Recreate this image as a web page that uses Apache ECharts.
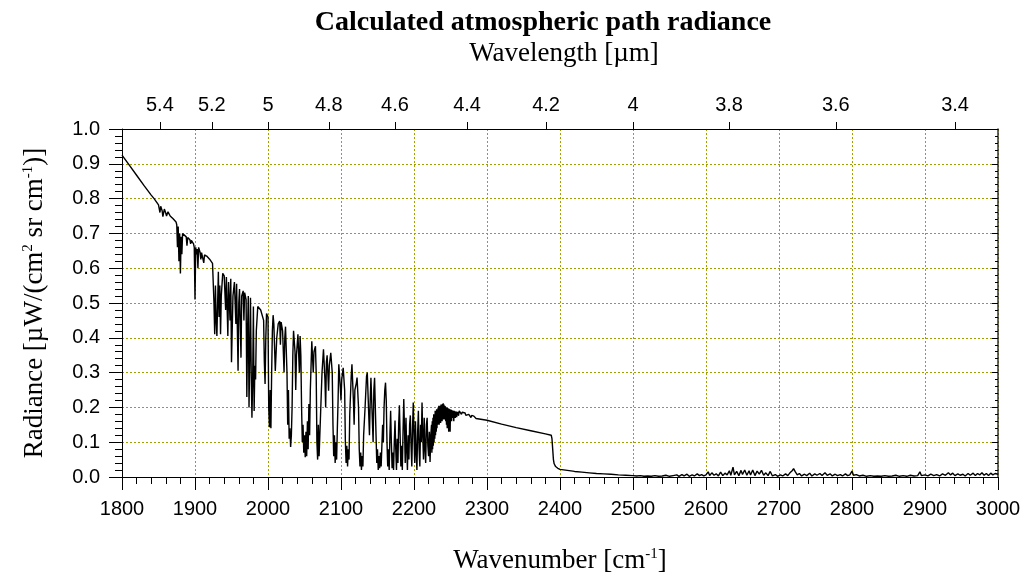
<!DOCTYPE html>
<html>
<head>
<meta charset="utf-8">
<title>Calculated atmospheric path radiance</title>
<script src="https://cdn.jsdelivr.net/npm/echarts@6/dist/echarts.min.js"></script>
<style>
  html, body { margin: 0; padding: 0; background: #fff; }
  #chart { width: 1027px; height: 579px; }
</style>
</head>
<body>
<div id="chart"></div>
<script>
// Path radiance spectrum, [wavenumber cm^-1, radiance µW/(cm² sr cm⁻¹)]
const h2oLines = [
  [1800,0.925],[1810,0.896],[1820,0.867],[1830,0.838],[1840,0.81],[1844,0.80],[1850,0.782],
  [1852,0.76],[1853,0.778],[1855,0.765],[1856,0.748],[1858,0.77],[1860,0.758],[1861,0.75],
  [1863,0.762],[1866,0.75],[1870,0.742],[1874,0.733],[1875,0.725],[1876,0.66],[1877,0.72],
  [1878,0.62],[1879,0.70],[1880,0.585],[1881,0.69],[1882,0.64],[1883,0.70],[1885,0.698],
  [1888,0.69],[1889,0.665],[1890,0.688],[1893,0.682],[1894,0.67],[1895,0.68],[1898,0.67],
  [1899,0.66],[1900,0.51],[1901,0.66],[1902,0.64],[1903,0.655],[1904,0.60],[1905,0.66],
  [1907,0.645],[1908,0.625],[1909,0.645],[1911,0.64],[1912,0.615],[1913,0.638],[1916,0.635],
  [1920,0.626],[1924,0.614],[1925,0.61],[1926,0.50],[1927,0.41],[1928,0.55],[1929,0.45],
  [1930,0.405],[1931,0.50],[1932,0.59],[1933,0.46],[1934,0.55],[1935,0.41],[1936,0.52],
  [1938,0.585],[1940,0.578],[1942,0.48],[1943,0.575],[1945,0.405],[1946,0.56],[1948,0.45],
  [1949,0.57],[1950,0.33],[1952,0.52],[1954,0.56],[1956,0.44],[1957,0.555],[1959,0.305],
  [1960,0.50],[1961,0.54],[1963,0.343],[1964,0.52],[1966,0.535],[1967,0.45],[1968,0.53],
  [1970,0.51],[1971,0.23],[1972,0.42],[1973,0.52],[1974,0.20],[1975,0.35],[1976,0.515],
  [1977,0.30],[1978,0.17],[1979,0.28],[1980,0.49],[1981,0.19],[1982,0.32],[1983,0.28],
  [1984,0.42]
];

const h2oCoLines = [
  [1986,0.49],[1988,0.495],[1990,0.48],[1992,0.485],[1994,0.45],[1995,0.33],[1996,0.267],
  [1997,0.40],[1998,0.47],[2000,0.46],[2001,0.20],[2002,0.143],[2003,0.25],[2004,0.14],
  [2005,0.30],[2006,0.42],[2007,0.465],[2008,0.44],[2010,0.305],[2012,0.40],[2014,0.44],
  [2016,0.448],[2017,0.38],[2018,0.445],[2020,0.42],[2022,0.30],[2023,0.40],[2024,0.432],
  [2026,0.30],[2027,0.15],[2028,0.25],[2029,0.11],[2030,0.14],[2031,0.086],[2032,0.12],
  [2033,0.20],[2034,0.35],[2035,0.42],[2037,0.36],[2038,0.25],[2039,0.35],[2041,0.41],
  [2043,0.30],[2044,0.405],[2045,0.35],[2046,0.20],[2047,0.10],[2048,0.15],[2049,0.07],
  [2050,0.12],[2051,0.057],[2052,0.13],[2053,0.06],[2054,0.16],[2055,0.08],[2056,0.21],
  [2057,0.12],[2058,0.25],[2060,0.39],[2062,0.30],[2063,0.36],[2065,0.376],[2066,0.30],
  [2067,0.10],[2068,0.05],[2069,0.15],[2070,0.06],[2071,0.12],[2072,0.18],[2074,0.30],
  [2076,0.367],[2078,0.28],[2079,0.20],[2080,0.33],[2081,0.35],[2083,0.248],[2084,0.32],
  [2086,0.357],[2088,0.30],[2089,0.15],[2090,0.06],[2091,0.12],[2092,0.04],[2093,0.10],
  [2094,0.05],[2095,0.14],[2096,0.22],[2097,0.324],[2099,0.26],[2100,0.22],[2101,0.28],
  [2103,0.314],[2105,0.25],[2106,0.10],[2107,0.04],[2108,0.09],[2109,0.03],[2110,0.08],
  [2111,0.05],[2112,0.18],[2114,0.29],[2115,0.324],[2117,0.22],[2118,0.15],[2119,0.25],
  [2121,0.27],[2122,0.286],[2124,0.20],[2125,0.08],[2126,0.03],[2127,0.07],[2128,0.02],
  [2129,0.06],[2130,0.03],[2131,0.12],[2133,0.20],[2135,0.29],[2136,0.30],[2138,0.18],
  [2139,0.12],[2140,0.22],[2141,0.285],[2143,0.16],[2144,0.10],[2145,0.25],[2146,0.285],
  [2148,0.12],[2149,0.04],[2150,0.08],[2151,0.02],[2152,0.06],[2153,0.025],[2154,0.07],
  [2155,0.03],[2156,0.09],[2157,0.15]
];

const coBand = [
  [2158,0.10],[2159,0.20],[2160,0.25],[2161,0.271],[2162,0.22],[2163,0.10],[2164,0.03],
  [2165,0.08],[2166,0.02],[2167,0.12],[2168,0.19],[2169,0.10],[2170,0.025],[2171,0.07],
  [2172,0.02],[2173,0.10],[2174,0.162],[2175,0.08],[2176,0.02],[2177,0.11],[2178,0.04],
  [2179,0.15],[2180,0.206],[2181,0.12],[2182,0.03],[2183,0.09],[2184,0.02],[2185,0.13],
  [2186,0.224],[2187,0.14],[2188,0.04],[2189,0.17],[2190,0.08],[2191,0.02],[2192,0.12],
  [2193,0.05],[2194,0.15],[2195,0.177],[2196,0.09],[2197,0.03],[2198,0.14],[2199,0.214],
  [2200,0.12],[2201,0.04],[2202,0.16],[2203,0.07],[2204,0.02],[2205,0.13],[2206,0.19],
  [2207,0.08],[2208,0.03],[2209,0.15],[2210,0.10],[2211,0.214],[2212,0.12],[2213,0.05],
  [2214,0.17],[2215,0.08],[2216,0.04],[2217,0.15],[2218,0.17],[2219,0.09],[2220,0.06],
  [2221,0.13],[2222,0.043],[2223,0.12],[2224,0.15],[2224.5,0.07],[2225,0.16],[2225.5,0.08],
  [2226,0.17],[2226.5,0.09],[2227,0.18],[2227.5,0.10],[2228,0.17],[2228.5,0.11],[2229,0.19],
  [2229.5,0.12],[2230,0.185],[2230.5,0.13],[2231,0.195],[2231.5,0.14],[2232,0.19],
  [2232.5,0.15],[2233,0.20],[2233.5,0.16],[2234,0.205],[2234.5,0.15],[2235,0.20],
  [2235.5,0.16],[2236,0.205],[2236.5,0.155],[2237,0.208],[2237.5,0.16],[2238,0.205],
  [2238.5,0.16],[2239,0.21],[2239.5,0.165],[2240,0.212],[2240.5,0.17],[2241,0.208],
  [2241.5,0.165],[2242,0.205],[2242.5,0.17],[2243,0.203],[2243.5,0.16],[2244,0.20],
  [2244.5,0.15],[2245,0.20],[2245.5,0.14],[2246,0.198],[2246.5,0.16],[2247,0.197],
  [2247.5,0.13],[2248,0.196],[2248.5,0.17],[2249,0.195],[2249.5,0.13],[2250,0.194],
  [2250.5,0.17],[2251,0.193],[2251.5,0.16],[2252,0.192],[2252.5,0.175],[2253,0.191],
  [2253.5,0.17],[2254,0.19],[2254.5,0.16],[2255,0.19],[2255.5,0.175],[2256,0.189],
  [2256.5,0.17],[2257,0.188],[2257.5,0.18],[2258,0.188],[2258.5,0.172],[2259,0.187],
  [2259.5,0.18],[2260,0.187],[2261,0.176],[2262,0.19],[2264,0.188],[2265,0.18],[2266,0.186],
  [2268,0.185],[2270,0.184],[2271,0.177],[2272,0.182],[2275,0.18],[2277,0.178],[2278,0.171],
  [2279,0.177],[2282,0.175],[2284,0.174],[2285,0.168],[2286,0.172]
];

const co2Edge = [
  [2300,0.163],[2320,0.152],[2340,0.142],[2360,0.133],[2380,0.124],[2388,0.12],
  [2389,0.11],[2390,0.08],[2391,0.05],[2392,0.038],[2394,0.03],[2397,0.025],[2400,0.022],
  [2410,0.019],[2420,0.016],[2430,0.014],[2440,0.012],[2450,0.01],[2460,0.009],
  [2470,0.008],[2480,0.006],[2490,0.005]
];

const windowNoise = [
  [2500,0.004],[2505,0.003],[2510,0.004],[2515,0.002],[2520,0.003],[2525,0.002],[2530,0.004],
  [2535,0.002],[2540,0.003],[2545,0.005],[2550,0.002],[2555,0.004],[2560,0.006],[2563,0.002],
  [2567,0.007],[2570,0.003],[2574,0.008],[2577,0.002],[2581,0.006],[2584,0.003],[2588,0.009],
  [2591,0.004],[2594,0.007],[2597,0.003],[2600,0.006],[2603,0.015],[2605,0.004],[2608,0.012],
  [2611,0.005],[2614,0.009],[2617,0.003],[2620,0.014],[2623,0.004],[2626,0.011],[2629,0.006],
  [2632,0.018],[2634,0.005],[2637,0.028],[2639,0.006],[2642,0.016],[2645,0.004],[2648,0.019],
  [2650,0.007],[2653,0.02],[2656,0.005],[2659,0.018],[2661,0.006],[2664,0.02],[2667,0.004],
  [2670,0.017],[2673,0.008],[2676,0.019],[2679,0.005],[2682,0.012],[2685,0.004],[2688,0.016],
  [2691,0.003],[2695,0.007],[2698,0.002],[2702,0.006],[2705,0.003],[2709,0.009],[2712,0.004],
  [2715,0.012],[2718,0.018],[2720,0.024],[2722,0.016],[2725,0.006],[2728,0.01],[2731,0.003],
  [2735,0.008],[2738,0.004],[2742,0.011],[2745,0.003],[2749,0.009],[2752,0.005],[2756,0.01],
  [2759,0.004],[2763,0.012],[2766,0.005],[2770,0.009],[2773,0.003],[2777,0.008],[2780,0.004],
  [2784,0.007],[2787,0.003],[2791,0.009],[2794,0.004],[2797,0.006],[2800,0.017],[2802,0.005],
  [2806,0.007],[2810,0.003],[2815,0.005],[2820,0.002],[2825,0.004],[2830,0.002],[2835,0.003],
  [2840,0.002],[2845,0.004],[2850,0.002],[2855,0.003],[2860,0.005],[2865,0.002],[2870,0.004],
  [2875,0.002],[2880,0.005],[2885,0.003],[2890,0.004],[2893,0.015],[2895,0.004],[2900,0.006],
  [2904,0.003],[2908,0.008],[2912,0.004],[2916,0.007],[2920,0.003],[2924,0.009],[2928,0.005],
  [2932,0.012],[2935,0.006],[2938,0.011],[2941,0.004],[2945,0.009],[2948,0.005],[2952,0.008],
  [2955,0.003],[2959,0.01],[2962,0.005],[2966,0.011],[2969,0.004],[2972,0.01],[2975,0.006],
  [2978,0.012],[2981,0.005],[2984,0.01],[2987,0.004],[2990,0.011],[2993,0.006],[2996,0.01],
  [3000,0.008]
];

// Wavelength ticks (µm) shown along the top axis
const wavelengthTicks = [5.4, 5.2, 5, 4.8, 4.6, 4.4, 4.2, 4, 3.8, 3.6, 3.4];

const spectrum = [].concat(h2oLines, h2oCoLines, coBand, co2Edge, windowNoise);
const wavelengthPositions = wavelengthTicks.map(l => 10000 / l);

const SANS = '"Liberation Sans", Arial, sans-serif';
const SERIF = '"Liberation Serif", "Times New Roman", serif';
const GRID_COLOR = '#a0a000';

const chart = echarts.init(document.getElementById('chart'), null, { renderer: 'canvas' });

chart.setOption({
  backgroundColor: '#ffffff',
  animation: false,
  grid: { left: 122, right: 29, top: 129, bottom: 100, containLabel: false },
  graphic: [
    {
      type: 'text',
      x: 543, y: 23,
      style: {
        text: 'Calculated atmospheric path radiance',
        font: 'bold 28px ' + SERIF,
        fill: '#000',
        textAlign: 'center', textVerticalAlign: 'middle',
        align: 'center', verticalAlign: 'middle'
      }
    },
    {
      type: 'text',
      x: 564, y: 54,
      style: {
        text: 'Wavelength [µm]',
        font: '27px ' + SERIF,
        fill: '#000',
        textAlign: 'center', textVerticalAlign: 'middle',
        align: 'center', verticalAlign: 'middle'
      }
    }
  ],
  xAxis: [
    {
      type: 'value', position: 'bottom', min: 1800, max: 3000, interval: 100,
      axisLine: { show: true, onZero: false, lineStyle: { color: '#000', width: 1 } },
      axisTick: { show: true, inside: false, length: 13, lineStyle: { color: '#000' } },
      minorTick: { show: true, splitNumber: 5, length: 7, lineStyle: { color: '#000' } },
      axisLabel: { margin: 22, fontFamily: SANS, fontSize: 20, color: '#000', formatter: v => String(v) },
      splitLine: { show: true, lineStyle: { color: GRID_COLOR, type: [2, 2], width: 1 } },
      name: '{t|Wavenumber [cm}{s|-1}{t|]}',
      nameLocation: 'middle', nameGap: 70,
      nameTextStyle: {
        rich: {
          t: { fontFamily: SERIF, fontSize: 27, color: '#000' },
          s: { fontFamily: SERIF, fontSize: 15, color: '#000', verticalAlign: 'top' }
        }
      }
    },
    {
      type: 'value', position: 'top', min: 1800, max: 3000,
      axisLine: { show: true, onZero: false, lineStyle: { color: '#000', width: 1 } },
      axisTick: { show: true, inside: false, length: 7, customValues: wavelengthPositions, lineStyle: { color: '#000' } },
      axisLabel: {
        show: true, margin: 14, fontFamily: SANS, fontSize: 20, color: '#000',
        customValues: wavelengthPositions,
        formatter: v => {
          const i = wavelengthPositions.findIndex(p => Math.abs(p - v) < 1e-6);
          return i >= 0 ? String(wavelengthTicks[i]) : '';
        }
      },
      splitLine: { show: false }
    }
  ],
  yAxis: [
    {
      type: 'value', position: 'left', min: 0, max: 1, interval: 0.1,
      axisLine: { show: true, onZero: false, lineStyle: { color: '#000', width: 1 } },
      axisTick: { show: true, inside: false, length: 13, lineStyle: { color: '#000' } },
      minorTick: { show: true, splitNumber: 5, length: 7, lineStyle: { color: '#000' } },
      axisLabel: { margin: 22, fontFamily: SANS, fontSize: 20, color: '#000', formatter: v => v.toFixed(1) },
      splitLine: { show: true, lineStyle: { color: GRID_COLOR, type: [2, 2], width: 1 } },
      name: '{t|Radiance [µW/(cm}{s|2}{t| sr cm}{s|-1}{t|)]}',
      nameLocation: 'middle', nameGap: 74, nameRotate: 90,
      nameTextStyle: {
        rich: {
          t: { fontFamily: SERIF, fontSize: 27, color: '#000' },
          s: { fontFamily: SERIF, fontSize: 15, color: '#000', verticalAlign: 'top' }
        }
      }
    },
    {
      type: 'value', position: 'right', min: 0, max: 1, interval: 0.1,
      axisLine: { show: true, onZero: false, lineStyle: { color: '#333', width: 1.5 } },
      axisTick: { show: true, inside: true, length: 6, lineStyle: { color: '#000' } },
      minorTick: { show: true, splitNumber: 5, length: 3, lineStyle: { color: '#000' } },
      axisLabel: { show: false },
      splitLine: { show: false }
    }
  ],
  series: [
    {
      type: 'line',
      xAxisIndex: 0, yAxisIndex: 0,
      data: spectrum,
      showSymbol: false,
      symbol: 'none',
      lineStyle: { color: '#000', width: 1.4 },
      z: 5
    }
  ]
});
</script>
</body>
</html>
